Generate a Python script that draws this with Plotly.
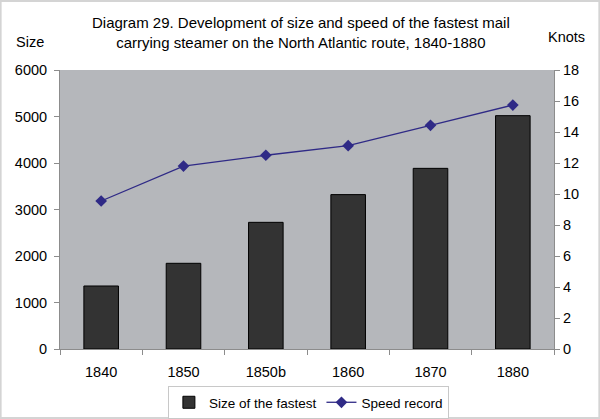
import plotly.graph_objects as go

categories = ["1840", "1850", "1850b", "1860", "1870", "1880"]
size_values = [1355, 1843, 2724, 3320, 3885, 5018]
speed_values = [9.55, 11.8, 12.5, 13.12, 14.43, 15.74]
size_ticks = [0, 1000, 2000, 3000, 4000, 5000, 6000]
knot_ticks = [0, 2, 4, 6, 8, 10, 12, 14, 16, 18]

W, H = 600, 419
L, R, T, B = 60.3, 46.3, 70, 70
pw, ph = W - L - R, H - T - B

def px2x(p):
    return (p - L) / pw

def py2y(p):
    return (H - B - p) / ph

FONT = "Liberation Sans, Arial, sans-serif"

fig = go.Figure()
fig.add_trace(go.Bar(
    x=categories, y=size_values, name="Size of the fastest",
    marker=dict(color="#333333", line=dict(color="#000000", width=1)),
    width=0.42, yaxis="y",
))
fig.add_trace(go.Scatter(
    x=categories, y=speed_values, name="Speed record", mode="lines+markers",
    line=dict(color="#2F2A86", width=1.3),
    marker=dict(symbol="diamond", size=9, color="#2F2A86"),
    yaxis="y2",
))

axis_common = dict(
    showgrid=False, zeroline=False, showline=True, linecolor="#8C8C8C", linewidth=1,
    ticks="outside", ticklen=5, tickcolor="#8C8C8C", automargin=False,
    tickfont=dict(family=FONT, size=14.5, color="#000000"),
)

fig.update_layout(
    width=W, height=H,
    margin=dict(l=L, r=R, t=T, b=B, pad=0, autoexpand=False),
    paper_bgcolor="#FFFFFF", plot_bgcolor="#B5B7BB",
    font=dict(family=FONT, size=14, color="#000000"),
    showlegend=True,
    xaxis=dict(
        type="category", range=[-0.5, 5.5], showgrid=False, zeroline=False,
        showline=True, linecolor="#8C8C8C", linewidth=1, automargin=False,
        ticks="outside", ticklen=5, tickcolor="#8C8C8C", tickson="boundaries",
        ticklabelstandoff=10,
        tickfont=dict(family=FONT, size=14.5, color="#000000"),
    ),
    yaxis=dict(range=[0, 6000], tickvals=size_ticks, ticklabelstandoff=4, **axis_common),
    yaxis2=dict(range=[0, 18], tickvals=knot_ticks, overlaying="y", side="right",
                **axis_common),
    legend=dict(
        orientation="h", xref="container", yref="container",
        x=308.4 / W, xanchor="center", y=1 - 386 / H, yanchor="top",
        bgcolor="#FFFFFF", bordercolor="#C8C8C8", borderwidth=1,
        font=dict(family=FONT, size=13.5, color="#000000"),
        traceorder="normal", itemwidth=30,
    ),
    annotations=[
        dict(text="Diagram 29. Development of size and speed of the fastest mail<br>carrying steamer on the North Atlantic route, 1840-1880",
             x=px2x(301), y=py2y(33), xref="paper", yref="paper",
             xanchor="center", yanchor="middle", showarrow=False,
             font=dict(family=FONT, size=15, color="#000000")),
        dict(text="Size", x=px2x(30), y=py2y(42), xref="paper", yref="paper",
             xanchor="center", yanchor="middle", showarrow=False,
             font=dict(family=FONT, size=14.5, color="#000000")),
        dict(text="Knots", x=px2x(566), y=py2y(37), xref="paper", yref="paper",
             xanchor="center", yanchor="middle", showarrow=False,
             font=dict(family=FONT, size=14.5, color="#000000")),
    ],
    shapes=[
        dict(type="rect", xref="paper", yref="paper",
             x0=px2x(1), x1=px2x(599), y0=py2y(418), y1=py2y(1),
             line=dict(color="#D4D4D4", width=2), fillcolor="rgba(0,0,0,0)", layer="below"),
    ],
)

fig.write_html("out.html", config={"displayModeBar": False},
               post_script="document.body.style.margin='0px';")
